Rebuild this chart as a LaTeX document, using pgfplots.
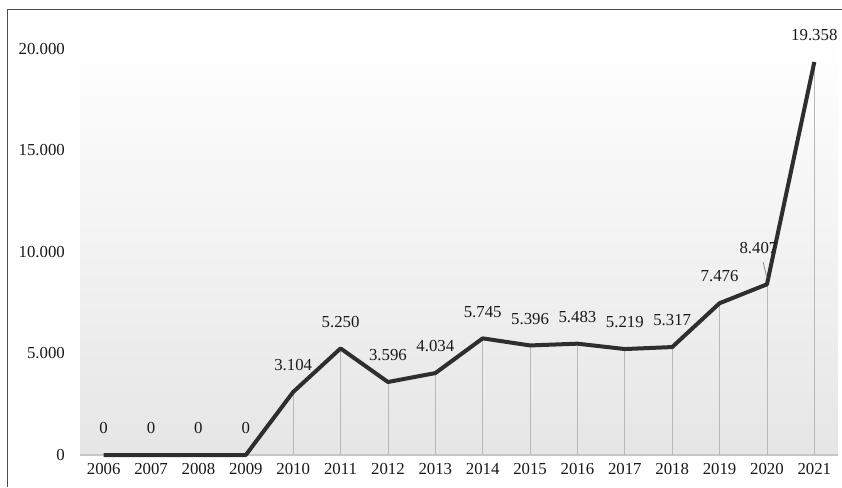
\documentclass[border=0pt]{standalone}
\usepackage{pgfplots}
\usepackage{pgfplotstable}
\pgfplotsset{compat=1.18}
\usepackage{fontspec}
\setmainfont{Liberation Serif}
\pgfplotstableread{
x y lab dx dy
0 0 0 0 19
1 0 0 0 19
2 0 0 0 19
3 0 0 0 19
4 3104 3.104 0 19
5 5250 5.250 0 19
6 3596 3.596 0 19
7 4034 4.034 0 19
8 5745 5.745 0 19
9 5396 5.396 0 19
10 5483 5.483 0 19
11 5219 5.219 0 19
12 5317 5.317 0 19
13 7476 7.476 0 19
14 8407 8.407 -8.5 29
15 19358 19.358 0 19
}\data
\begin{document}
\fontsize{16.8}{20}\selectfont
\begin{tikzpicture}
\useasboundingbox (0pt,0pt) rectangle (842pt,487pt);
\draw[black!70, line width=1pt] (7pt,0pt) -- (7pt,477pt) -- (842pt,477pt);
\begin{axis}[
  at={(80pt,32pt)}, anchor=south west,
  scale only axis, width=758pt, height=417pt,
  xmin=-0.5, xmax=15.5, ymin=0, ymax=20540,
  xtick={0,...,15},
  xticklabels={2006,2007,2008,2009,2010,2011,2012,2013,2014,2015,2016,2017,2018,2019,2020,2021},
  ytick={0,5000,10000,15000,20000},
  yticklabels={0,5.000,10.000,15.000,20.000},
  scaled y ticks=false,
  axis line style={draw=none},
  major tick length=0pt,
  every tick label/.append style={font=\fontsize{16.8}{20}\selectfont, text=black!90},
  xticklabel style={anchor=north, inner sep=0pt, yshift=-8pt},
  yticklabel style={anchor=east, inner sep=0pt, xshift=-15pt},
  axis background/.style={shade, bottom color=black!10, top color=white},
  clip=false,
]
\draw[black!22, line width=1.2pt] (axis cs:-0.5,0) -- (axis cs:15.5,0);
\addplot[ycomb, black!28, line width=0.8pt, mark=none] table[x=x, y=y] {\data};
\addplot[black!82, line width=4pt, line join=round, mark=none,
  nodes near coords,
  point meta=explicit symbolic,
  visualization depends on={\thisrow{dx} \as \dx},
  visualization depends on={\thisrow{dy} \as \dy},
  nodes near coords style={anchor=south, inner sep=0pt, text=black!90,
    font=\fontsize{16.8}{20}\selectfont, xshift=\dx pt, yshift=\dy pt},
] table[x=x, y=y, meta=lab] {\data};
\draw[black!45, line width=0.8pt] (axis cs:13.92,9500) -- (axis cs:14,8720);
\end{axis}
\end{tikzpicture}
\end{document}
